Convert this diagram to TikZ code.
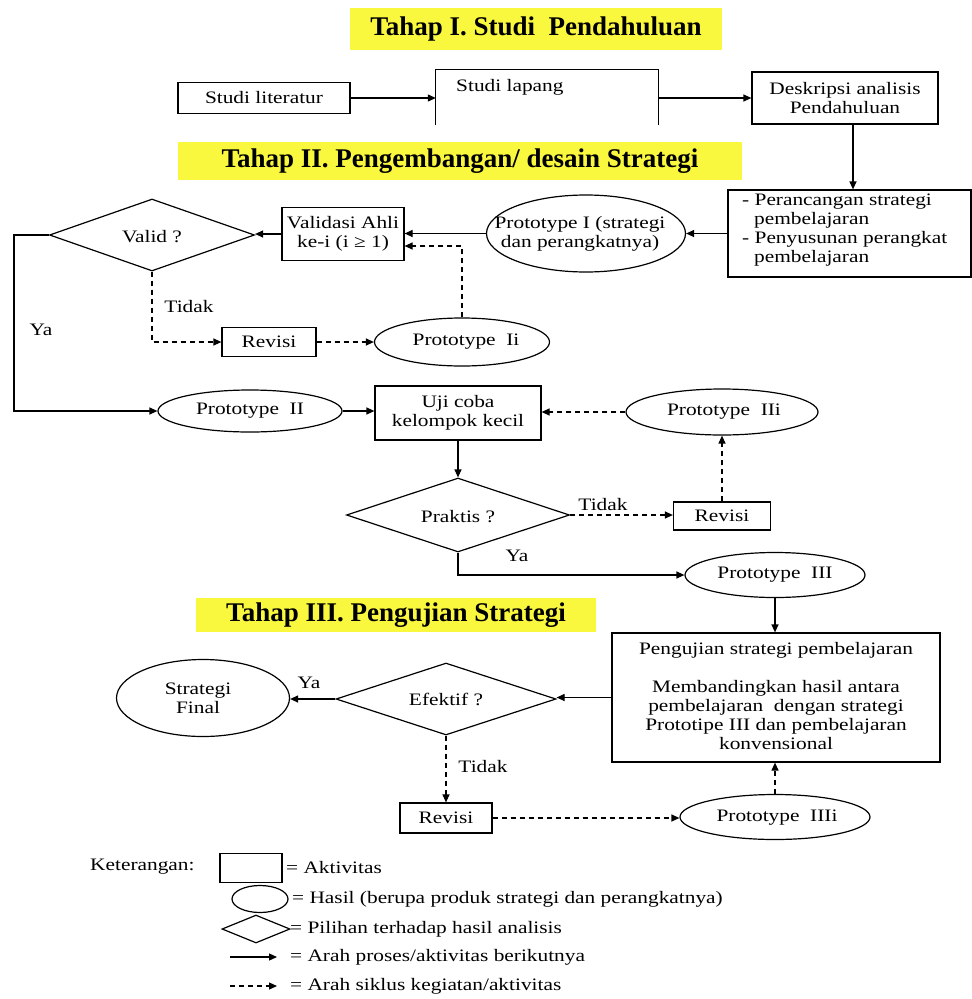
\documentclass[tikz,border=0pt]{standalone}
\usepackage{fontspec}
\setmainfont{Liberation Serif}[FakeStretch=1.22]
\newfontfamily\titlefont{Liberation Serif}
\usetikzlibrary{shapes.geometric,arrows.meta}
\definecolor{ttlyellow}{RGB}{250,248,62}
\begin{document}
\begin{tikzpicture}[x=1pt,y=-1pt,
  every node/.style={font=\fontsize{17.5}{19}\selectfont, inner sep=0pt},
  box/.style={draw, line width=1.2pt, align=center},
  ell/.style={draw, ellipse, line width=1.2pt},
  dia/.style={draw, diamond, line width=1.2pt},
  arr/.style={line width=1.2pt, -{Triangle[length=8pt,width=7pt]}},
  darr/.style={arr, dash pattern=on 5pt off 4pt},
  ttl/.style={fill=ttlyellow, font=\titlefont\bfseries\fontsize{27}{30}\selectfont},
  txt/.style={align=center}
]
\useasboundingbox (0,0) rectangle (972,999);

% ---------- Tahap I ----------
\node[ttl, minimum width=372pt, minimum height=42pt] (t1) at (536,29) {Tahap I. Studi\ \ Pendahuluan};
\node[box, minimum width=172pt, minimum height=31pt] (sl) at (264,98) {Studi literatur};
\node[minimum width=222pt, minimum height=55pt] (slp) at (547,97.5) {};
\draw[line width=1.2pt] (slp.south west) -- (slp.north west) -- (slp.north east) -- (slp.south east);
\node[anchor=west] (slpt) at (456,87) {Studi lapang};
\node[box, minimum width=186pt, minimum height=52pt] (da) at (845,98) {Deskripsi analisis\\Pendahuluan};
\draw[arr] (sl.east) -- (sl.east -| slp.west);
\draw[arr] (slp.east |- da.west) -- (da.west);

% ---------- Tahap II ----------
\node[ttl, minimum width=564pt, minimum height=38pt] (t2) at (460,161) {Tahap II. Pengembangan/ desain Strategi};
\node[draw, line width=1.2pt, minimum width=243pt, minimum height=87pt] (pr) at (849.5,233.5) {};
\node[anchor=north west, align=left] (prt) at (742,194) {- Perancangan strategi\\\hspace*{12pt}pembelajaran\\- Penyusunan perangkat\\\hspace*{12pt}pembelajaran};
\draw[arr] ([xshift=8pt]da.south) -- ([xshift=8pt]da.south |- pr.north);

\node[ell, minimum width=199pt, minimum height=77pt] (p1) at (586,233.5) {};
\node[txt] (p1t) at (580,233.5) {Prototype I (strategi\\dan perangkatnya)};
\draw[arr] (pr.west) -- (p1.east);

\node[box, minimum width=122pt, minimum height=53pt] (va) at (343,234) {Validasi Ahli\\ke-i (i ≥ 1)};
\draw[arr] (p1.west) -- (p1.west -| va.east);

\node[dia, minimum width=205pt, minimum height=72pt] (vd) at (152,235) {};
\node (vdt) at (152,237) {Valid ?};
\draw[arr] (va.west) -- (va.west -| vd.east);

\node[ell, minimum width=175pt, minimum height=48pt] (pii) at (462,342) {};
\node (piit) at (466,342) {Prototype\ \ Ii};
\draw[darr] (pii.north) |- ([yshift=-12pt]va.east);

\node[box, minimum width=94pt, minimum height=29pt] (r1) at (269,342) {Revisi};
\draw[darr] (vd.south) |- (r1.west);
\node (tdk1) at (189,307) {Tidak};
\draw[darr] (r1.east) -- (pii.west);

\node[ell, minimum width=184pt, minimum height=42pt] (p2) at (250,411) {};
\node (p2t) at (250,411) {Prototype\ \ II};
\coordinate (yaL) at (14,411);
\draw[arr] (vd.west) -| (yaL) -- (p2.west);
\node (ya1) at (41,330) {Ya};

\node[box, minimum width=166pt, minimum height=54pt] (uj) at (458,413) {Uji coba\\kelompok kecil};
\draw[arr] (p2.east) -- (p2.east -| uj.west);

\node[ell, minimum width=192pt, minimum height=46pt] (p2i) at (722,412) {};
\node (p2it) at (724,412) {Prototype\ \ IIi};
\draw[darr] (p2i.west) -- (p2i.west -| uj.east);

\node[dia, minimum width=223pt, minimum height=74pt] (pd) at (458,515) {};
\node (pdt) at (458,517) {Praktis ?};
\draw[arr] (uj.south) -- (pd.north);

\node[box, minimum width=97pt, minimum height=28pt] (r2) at (722,516) {Revisi};
\draw[darr] (pd.east) -- (pd.east -| r2.west);
\node (tdk2) at (603,505) {Tidak};
\draw[darr] (r2.north) -- (p2i.south);

\node[ell, minimum width=180pt, minimum height=45pt] (p3) at (775,575) {};
\node (p3t) at (775,575) {Prototype\ \ III};
\draw[arr] (pd.south) |- (p3.west);
\node (ya2) at (517,556) {Ya};

% ---------- Tahap III ----------
\node[ttl, minimum width=400pt, minimum height=34pt] (t3) at (396,615) {Tahap III. Pengujian Strategi};

\node[draw, line width=1.2pt, minimum width=328pt, minimum height=129pt] (pg) at (776,697.5) {};
\node[txt, anchor=north] (pgt) at (776,642) {Pengujian strategi pembelajaran\\[19pt]Membandingkan hasil antara\\pembelajaran\ \ dengan strategi\\Prototipe III dan pembelajaran\\konvensional};
\draw[arr] (p3.south) -- (p3.south |- pg.north);

\node[dia, minimum width=220pt, minimum height=72pt] (ed) at (446,699) {};
\node (edt) at (446,699) {Efektif ?};
\draw[arr] (pg.west) -- (pg.west -| ed.east);

\node[ell, minimum width=173pt, minimum height=77pt] (sf) at (203,698) {};
\node[txt] (sft) at (198,698) {Strategi\\Final};
\draw[arr] (ed.west) -- (ed.west -| sf.east);
\node (ya3) at (309,683) {Ya};

\node[box, minimum width=92pt, minimum height=30pt] (r3) at (446,818) {Revisi};
\draw[darr] (ed.south) -- (r3.north);
\node (tdk3) at (483,767) {Tidak};

\node[ell, minimum width=190pt, minimum height=45pt] (p3i) at (775,817) {};
\node (p3it) at (777,818) {Prototype\ \ IIIi};
\draw[darr] (r3.east) -- (r3.east -| p3i.west);
\draw[darr] (p3i.north) -- (p3i.north |- pg.south);

% ---------- Legend ----------
\node[anchor=west] (ket) at (90,867) {Keterangan:};
\node[draw, line width=1.2pt, minimum width=62pt, minimum height=29pt] (lrect) at (251,868) {};
\node[anchor=west] (lrt) at (286,868) {= Aktivitas};
\node[ell, minimum width=56pt, minimum height=27pt] (lell) at (260,899) {};
\node[anchor=west] (lelt) at (292,899) {= Hasil (berupa produk strategi dan perangkatnya)};
\node[dia, minimum width=68pt, minimum height=28pt] (ldia) at (256,929) {};
\node[anchor=west] (ldt) at (290,929) {= Pilihan terhadap hasil analisis};
\coordinate (la1) at (230,957);
\coordinate (la2) at (277,957);
\draw[arr] (la1) -- (la2);
\node[anchor=west] (lat) at (290,957) {= Arah proses/aktivitas berikutnya};
\coordinate (lb1) at (230,986);
\coordinate (lb2) at (277,986);
\draw[darr] (lb1) -- (lb2);
\node[anchor=west] (lbt) at (290,986) {= Arah siklus kegiatan/aktivitas};
\end{tikzpicture}
\end{document}
